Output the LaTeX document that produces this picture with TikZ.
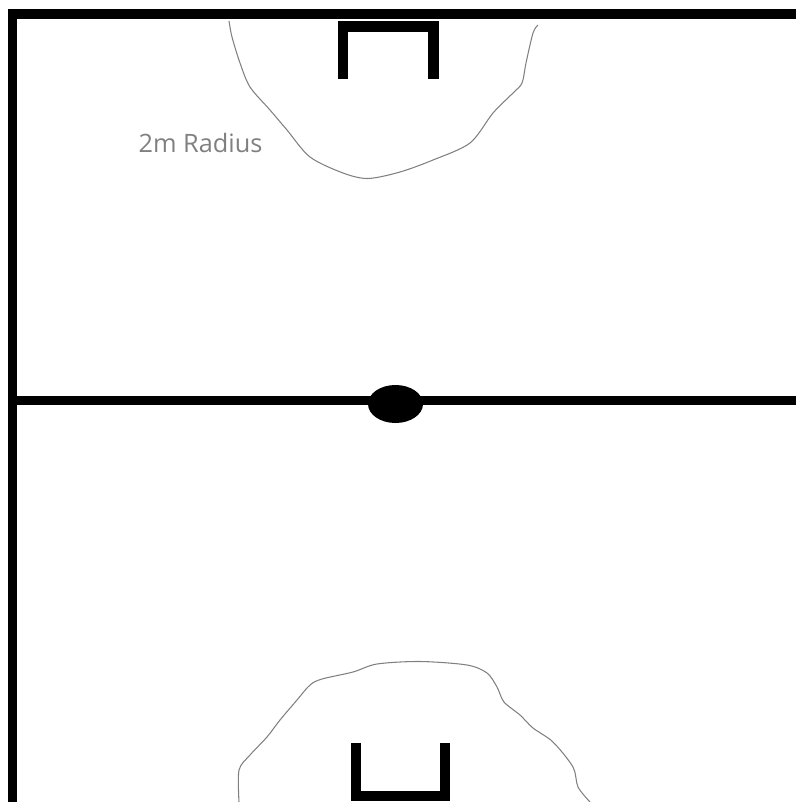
\documentclass[tikz,border=0pt]{standalone}
\usepackage{fontspec}
\setmainfont{Open Sans}
\usepackage{tikz}

\definecolor{zonegray}{RGB}{128,128,128}

\begin{document}
\begin{tikzpicture}[x=0.025cm,y=-0.025cm,
  pitchline/.style={line width=6.8pt,line join=miter},
  goalline/.style={line width=7.3pt,line join=miter},
  zoneline/.style={zonegray,line width=0.75pt}]
\useasboundingbox (0,0) rectangle (796,802);

% Pitch outline and halfway line
\draw[pitchline] (796,14) -- (12.5,14) -- (12.5,802);
\draw[pitchline] (12.5,400.5) -- (796,400.5);

% Ball on the halfway line
\fill (395.5,404) ellipse [x radius=27.5, y radius=19];

% Top goal
\draw[goalline] (343,79) -- (343,26.5) -- (433.5,26.5) -- (433.5,79);

% Bottom goal
\draw[goalline] (356,742.5) -- (356,796) -- (445,796) -- (445,742.5);

% Top zone
\draw[zoneline] plot[smooth,tension=0.5] coordinates {
  (229,21) (232,37) (240,63) (250,87) (270,110) (287,130) (310,157)
  (343,173) (368,178.5) (400,172) (433,160) (470,143) (493,113)
  (513,93) (522,83) (526,63) (533,33) (538,25)};
\node[zonegray,font=\fontsize{18}{21}\selectfont,anchor=base] (radius) at (200.5,152) {2m Radius};

% Bottom zone
\draw[zoneline] plot[smooth,tension=0.5] coordinates {
  (239,802) (239,770) (250,755) (267,737) (280,720) (297,700) (310,685)
  (322,679) (353,672) (377,664) (420,661.5) (467,665) (487,673)
  (497,687) (504,702) (520,715) (533,728) (553,742) (573,767)
  (578,787) (590,802)};
\end{tikzpicture}
\end{document}
